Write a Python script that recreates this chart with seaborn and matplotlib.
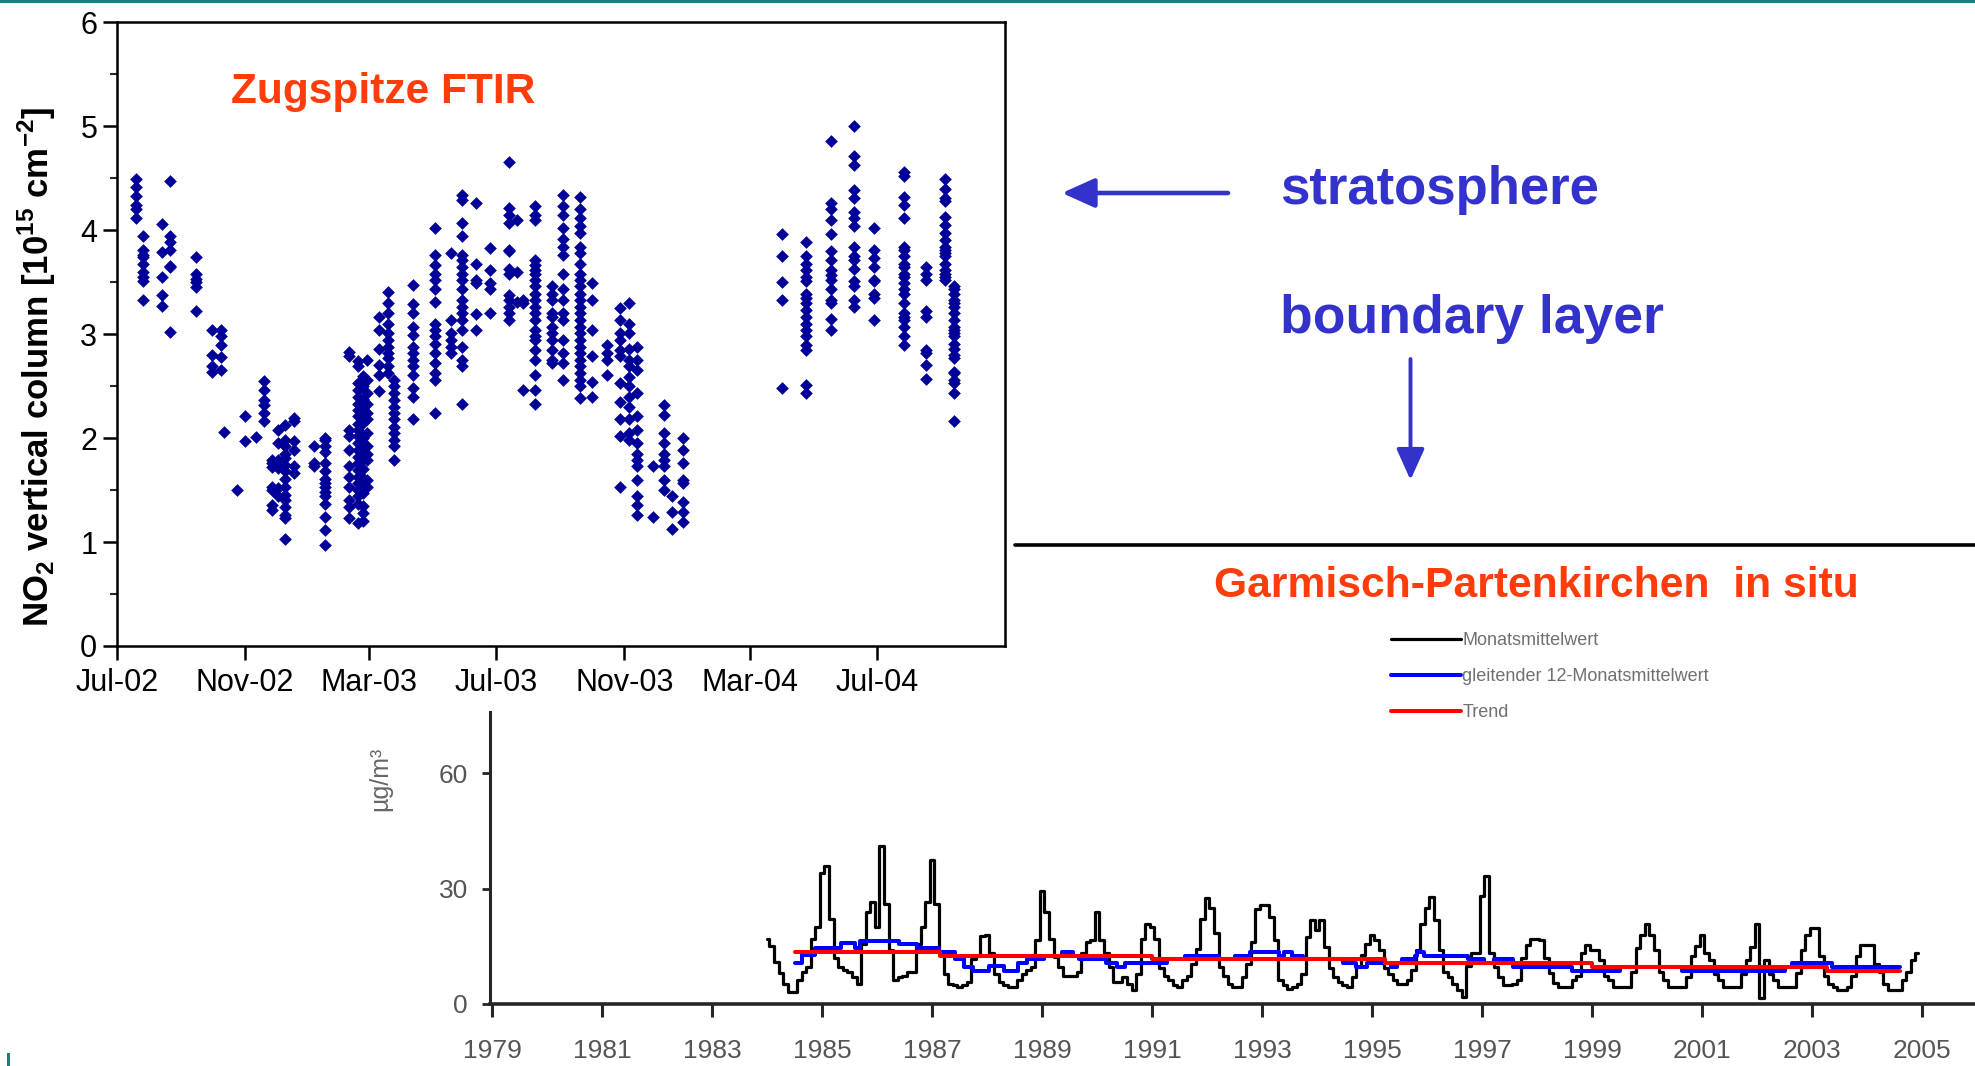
import numpy as np
import pandas as pd
import matplotlib
matplotlib.use("Agg")
import matplotlib.pyplot as plt
import matplotlib.dates as mdates
from matplotlib.patches import FancyArrowPatch, Rectangle
from matplotlib.lines import Line2D
from matplotlib.ticker import MultipleLocator
import seaborn as sns

# ---------------- Zugspitze FTIR: measurement days and NO2 columns [1e15 cm-2]
ftir_dates = [
    "2002-07-20", "2002-07-26", "2002-08-14", "2002-08-21", "2002-09-15",
    "2002-10-01", "2002-10-09", "2002-10-12", "2002-10-25", "2002-11-01",
    "2002-11-12", "2002-11-20", "2002-11-27", "2002-12-03", "2002-12-10",
    "2002-12-18", "2003-01-07", "2003-01-17", "2003-02-09", "2003-02-18",
    "2003-02-23", "2003-02-27", "2003-03-10", "2003-03-19", "2003-03-25",
    "2003-04-12", "2003-05-03", "2003-05-18", "2003-05-29", "2003-06-11",
    "2003-06-25", "2003-07-13", "2003-07-21", "2003-07-27", "2003-08-07",
    "2003-08-23", "2003-09-03", "2003-09-19", "2003-10-01", "2003-10-15",
    "2003-10-28", "2003-11-05", "2003-11-13", "2003-11-29", "2003-12-09",
    "2003-12-17", "2003-12-27", "2004-04-01", "2004-04-24", "2004-05-18",
    "2004-06-09", "2004-06-28", "2004-07-27", "2004-08-17", "2004-09-04",
    "2004-09-13",
]
ftir_values = [
    [4.49, 4.42, 4.33, 4.24, 4.20, 4.12],
    [3.94, 3.81, 3.76, 3.74, 3.68, 3.60, 3.55, 3.51, 3.33],
    [4.06, 3.79, 3.55, 3.38, 3.27],
    [4.47, 3.94, 3.89, 3.81, 3.66, 3.65, 3.02],
    [3.74, 3.58, 3.53, 3.50, 3.45, 3.22],
    [3.04, 2.80, 2.69, 2.64],
    [3.04, 2.98, 2.90, 2.78, 2.66],
    [2.06],
    [1.50],
    [2.21, 1.97],
    [2.01],
    [2.55, 2.46, 2.37, 2.32, 2.24, 2.16],
    [1.79, 1.76, 1.72, 1.53, 1.50, 1.36, 1.31],
    [2.08, 1.95, 1.79, 1.71, 1.52, 1.44],
    [2.13, 1.98, 1.92, 1.85, 1.81, 1.74, 1.68, 1.61, 1.53, 1.45, 1.40, 1.34, 1.26, 1.23, 1.03],
    [2.19, 2.16, 1.97, 1.89, 1.73, 1.66],
    [1.92, 1.76, 1.73],
    [2.00, 1.98, 1.92, 1.87, 1.76, 1.68, 1.61, 1.57, 1.53, 1.48, 1.44, 1.37, 1.24, 1.12, 0.97],
    [2.83, 2.79, 2.08, 2.02, 1.89, 1.73, 1.63, 1.53, 1.40, 1.34, 1.23],
    [2.74, 2.69, 2.53, 2.46, 2.40, 2.33, 2.27, 2.21, 2.14, 2.08, 2.02, 1.95, 1.89, 1.82,
     1.76, 1.69, 1.63, 1.57, 1.50, 1.44, 1.37, 1.18],
    [2.60, 2.50, 2.38, 2.28, 2.15, 2.00, 1.90, 1.80, 1.70, 1.62, 1.55, 1.47, 1.35, 1.28, 1.20],
    [2.75, 2.56, 2.43, 2.33, 2.24, 2.18, 2.05, 1.92, 1.85, 1.79, 1.60, 1.53],
    [3.17, 3.04, 2.86, 2.70, 2.61, 2.45],
    [3.41, 3.30, 3.20, 3.10, 3.01, 2.94, 2.88, 2.82, 2.77, 2.69, 2.63],
    [2.56, 2.50, 2.43, 2.37, 2.30, 2.24, 2.18, 2.11, 2.05, 1.98, 1.92, 1.79],
    [3.47, 3.29, 3.20, 3.07, 2.99, 2.88, 2.82, 2.75, 2.69, 2.61, 2.48, 2.40, 2.18],
    [4.02, 3.76, 3.67, 3.58, 3.52, 3.43, 3.31, 3.10, 3.04, 2.98, 2.91, 2.82, 2.72, 2.63, 2.56, 2.24],
    [3.78, 3.14, 3.01, 2.94, 2.88, 2.82],
    [4.34, 4.29, 4.07, 3.94, 3.76, 3.71, 3.65, 3.58, 3.52, 3.43, 3.33, 3.26, 3.20, 3.14,
     3.04, 2.88, 2.75, 2.69, 2.33],
    [4.26, 3.68, 3.52, 3.49, 3.19, 3.04],
    [3.83, 3.62, 3.49, 3.43, 3.20],
    [4.66, 4.21, 4.15, 4.07, 3.81, 3.80, 3.63, 3.58, 3.38, 3.33, 3.26, 3.20, 3.14],
    [4.10, 3.60, 3.31],
    [3.33, 3.30, 2.46],
    [4.23, 4.15, 4.10, 3.71, 3.67, 3.62, 3.58, 3.52, 3.46, 3.39, 3.33, 3.26, 3.20, 3.14,
     3.04, 2.98, 2.94, 2.85, 2.75, 2.61, 2.46, 2.33],
    [3.46, 3.39, 3.33, 3.20, 3.17, 3.07, 3.01, 2.94, 2.85, 2.75, 2.72],
    [4.34, 4.23, 4.15, 4.02, 3.92, 3.84, 3.76, 3.58, 3.43, 3.33, 3.20, 3.14, 2.94, 2.82, 2.72, 2.56],
    [4.32, 4.20, 4.12, 4.04, 3.97, 3.84, 3.78, 3.68, 3.58, 3.52, 3.46, 3.39, 3.33, 3.26,
     3.20, 3.14, 3.07, 3.01, 2.94, 2.88, 2.82, 2.75, 2.69, 2.63, 2.56, 2.50, 2.39],
    [3.49, 3.33, 3.04, 2.79, 2.54, 2.40],
    [2.90, 2.82, 2.75, 2.61],
    [3.25, 3.14, 3.01, 2.94, 2.85, 2.79, 2.53, 2.35, 2.18, 2.02, 1.53],
    [3.30, 3.10, 3.01, 2.86, 2.75, 2.69, 2.59, 2.50, 2.40, 2.30, 2.18, 2.05, 1.98],
    [2.88, 2.75, 2.66, 2.43, 2.21, 2.08, 1.95, 1.85, 1.79, 1.73, 1.60, 1.44, 1.36, 1.26],
    [1.73, 1.24],
    [2.32, 2.22, 2.05, 1.95, 1.85, 1.79, 1.73, 1.60, 1.50],
    [1.44, 1.29, 1.13],
    [2.00, 1.89, 1.76, 1.60, 1.57, 1.39, 1.29, 1.19],
    [3.96, 3.75, 3.50, 3.33, 2.48],
    [3.89, 3.75, 3.68, 3.62, 3.55, 3.51, 3.39, 3.35, 3.30, 3.23, 3.17, 3.10, 3.04, 2.98,
     2.90, 2.85, 2.51, 2.43],
    [4.86, 4.26, 4.20, 4.10, 3.96, 3.80, 3.71, 3.62, 3.57, 3.52, 3.43, 3.33, 3.30, 3.15, 3.04],
    [5.00, 4.71, 4.63, 4.39, 4.31, 4.18, 4.12, 4.04, 3.84, 3.75, 3.71, 3.63, 3.51, 3.46, 3.33, 3.26],
    [4.02, 3.81, 3.73, 3.65, 3.52, 3.51, 3.39, 3.35, 3.14],
    [4.56, 4.52, 4.32, 4.24, 4.12, 3.84, 3.81, 3.75, 3.68, 3.65, 3.58, 3.55, 3.49, 3.43,
     3.39, 3.30, 3.20, 3.17, 3.14, 3.07, 2.98, 2.90],
    [3.65, 3.58, 3.52, 3.22, 3.17, 2.85, 2.82, 2.70, 2.57],
    [4.49, 4.40, 4.31, 4.28, 4.13, 4.05, 3.97, 3.91, 3.84, 3.81, 3.78, 3.75, 3.68, 3.62,
     3.58, 3.55, 3.52],
    [3.46, 3.43, 3.39, 3.33, 3.30, 3.26, 3.20, 3.14, 3.07, 3.04, 3.01, 2.98, 2.91, 2.86,
     2.80, 2.77, 2.64, 2.63, 2.56, 2.53, 2.43, 2.16],
]
top_xticks = ["2002-07-01", "2002-11-01", "2003-03-01", "2003-07-01",
              "2003-11-01", "2004-03-01", "2004-07-01"]

# ---------------- Garmisch-Partenkirchen in situ NO2 [ug/m3]
gap_first_year = 1984
gap_monthly = [
    [17, 15, 11, 8, 5.3, 3, 3.2, 6.2, 8.4, 9.7, 17, 20],            # 1984
    [34, 36, 22, 12, 9.7, 8.8, 8.4, 7, 5.3, 15.7, 24, 26.5],         # 1985
    [20, 41, 26, 14, 6.2, 7, 7.4, 8.4, 8.4, 15.7, 20, 26.5],         # 1986
    [37.4, 26, 13.2, 7.9, 5.3, 4.9, 4.3, 4.9, 5.7, 11.6, 12.5, 17.6],  # 1987
    [18, 13.2, 7.9, 5.7, 4.9, 4.3, 4.3, 6.2, 7.9, 8.8, 9.7, 16.6],   # 1988
    [29.5, 24, 17, 12.3, 9.7, 7.4, 7.4, 7.4, 8.4, 13.2, 16.2, 16.6],  # 1989
    [24, 16.6, 13.2, 9.7, 5.7, 5.7, 7, 5.3, 3.6, 7.9, 17, 20.9],     # 1990
    [20, 17, 9.3, 7.4, 6.2, 5, 4.3, 6.2, 7.4, 10.4, 14.3, 22],       # 1991
    [27.7, 25, 18.5, 9.7, 7.4, 5.3, 4.3, 4.3, 7, 10.4, 16.2, 24.8],  # 1992
    [25.7, 25.7, 22.7, 16.6, 6.2, 4.9, 4, 4.3, 5.3, 7.9, 17.5, 21.8],  # 1993
    [19.2, 21.8, 14.8, 9.3, 7, 5.7, 4.9, 4.3, 7, 9.7, 12.7, 15.7],   # 1994
    [17.9, 16.6, 14, 9.3, 7.9, 6.2, 5.3, 5.3, 6.2, 8.8, 14, 20.9],   # 1995
    [25.1, 27.8, 21.8, 14, 8.4, 7, 5.3, 3.6, 1.8, 10, 13.2, 13.2],   # 1996
    [28, 33.4, 13.2, 9.7, 7, 4.9, 4.9, 5.3, 6.2, 12, 15.3, 17],      # 1997
    [17, 16.6, 12, 8, 5.5, 4.3, 4.3, 4.3, 6.2, 7.4, 13.2, 15.3],     # 1998
    [14, 14, 11.4, 7.4, 6.2, 4.3, 4.3, 4.3, 4.3, 8.4, 14.5, 17.9],   # 1999
    [20.9, 17.9, 14, 8.4, 6.2, 4.3, 4.3, 4.3, 4.3, 7, 12.6, 15],     # 2000
    [17.9, 13.2, 11.4, 7.9, 6.2, 4.3, 4.3, 4.3, 4.3, 7.9, 11.4, 14.8],  # 2001
    [20.9, 1.6, 11.4, 7.9, 6.2, 4.3, 4.3, 4.3, 4.3, 8, 14, 17.9],    # 2002
    [19.8, 19.8, 12.6, 7.4, 5.3, 4.3, 3.6, 3.6, 4.3, 7.4, 12.6, 15.3],  # 2003
    [15.3, 15.3, 10.4, 8.4, 5.3, 3.6, 3.6, 3.6, 6.2, 8.4, 11.4, 13.2],  # 2004
]
# running 12-month mean, as read: month index (since Jan 1984) where each level starts
running_start = [6, 7.6, 10.5, 16, 19.2, 20.3, 28.7, 32.7, 37.4, 41, 43, 45, 48.3, 51.6,
                 54.8, 56.7, 60.3, 64.3, 66.8, 68, 74, 76.3, 78, 87.2, 91.2, 98.5, 102.1,
                 105.4, 111.6, 112.7, 114.5, 117, 125.7, 128.5, 130.8, 136, 137.4, 138.5,
                 141.4, 141.7, 143.2, 153, 156.3, 158.5, 162.8, 175.6, 186.1, 199.6,
                 222.1, 223.6, 232.3]
running_level = [10.6, 12.8, 14.6, 15.8, 14.6, 16.4, 15.7, 14.6, 13.4, 11.7, 9.7, 8.7, 9.8,
                 8.7, 10.6, 11.7, 12.6, 13.4, 12.6, 11.7, 10.6, 9.7, 10.6, 11.7, 12.6, 11.7,
                 12.6, 13.4, 12.6, 13.4, 12.6, 11.7, 10.6, 9.7, 10.6, 9.7, 10.6, 11.7, 12.6,
                 13.4, 12.6, 11.7, 10.6, 11.7, 9.7, 8.7, 9.7, 8.7, 9.7, 10.6, 9.7]
trend_start = [6, 37.7, 84, 134.8, 179.9, 231.2]
trend_level = [13.4, 12.6, 11.7, 10.6, 9.7, 8.7]
steps_end = 247.2
bottom_xticks = list(range(1979, 2006, 2))
bottom_yticks = [0, 30, 60]
legend_labels = ["Monatsmittelwert", "gleitender 12-Monatsmittelwert", "Trend"]

# ---------------- style
sns.set_theme(style="ticks")
plt.rcParams["font.family"] = ["Liberation Sans", "DejaVu Sans"]
plt.rcParams["mathtext.fontset"] = "custom"
plt.rcParams["mathtext.rm"] = "Liberation Sans"
plt.rcParams["mathtext.bf"] = "Liberation Sans:bold"
plt.rcParams["axes.unicode_minus"] = True

RED = "#ff3c0a"
BLUE_TXT = "#3333cc"
DOT = "#000099"

fig = plt.figure(figsize=(19.75, 10.66), dpi=100)
fig.patch.set_facecolor("white")

# ---------------- top panel
ax1 = fig.add_axes([0.0591, 0.394, 0.4498, 0.585])
df_ftir = pd.DataFrame({
    "date": pd.to_datetime(np.repeat(ftir_dates, [len(v) for v in ftir_values])),
    "value": np.concatenate([np.asarray(v, float) for v in ftir_values]),
})
sns.scatterplot(data=df_ftir, x="date", y="value", marker="D", s=42, color=DOT,
                linewidth=0, ax=ax1, legend=False)
ax1.set_xlim(pd.Timestamp("2002-07-01"), pd.Timestamp("2004-11-01"))
ax1.set_ylim(0, 6)
ax1.set_xticks(pd.to_datetime(top_xticks))
ax1.xaxis.set_major_formatter(mdates.DateFormatter("%b-%y"))
ax1.xaxis.set_minor_locator(plt.NullLocator())
ax1.yaxis.set_major_locator(MultipleLocator(1))
ax1.yaxis.set_minor_locator(MultipleLocator(0.5))
for sp in ax1.spines.values():
    sp.set_visible(True)
    sp.set_linewidth(1.8)
    sp.set_color("black")
ax1.tick_params(axis="both", which="major", direction="out", length=10, width=1.8,
                labelsize=22, colors="black", pad=4, bottom=True, left=True)
ax1.tick_params(axis="x", which="major", pad=6)
ax1.tick_params(axis="y", which="minor", direction="out", length=5, width=1.5, left=True)
ax1.set_xlabel("")
ax1.set_ylabel(r"NO$_\mathbf{2}$ vertical column [10$^\mathbf{15}$ cm$^\mathbf{-2}$]",
               fontsize=25, fontweight="bold", color="black")
ax1.yaxis.set_label_coords(-0.066, 0.447)

fig.text(0.1172, 0.9034, "Zugspitze FTIR", color=RED, fontsize=30.5, fontweight="bold",
         ha="left", va="baseline")

# ---------------- bottom panel
ax2 = fig.add_axes([0.2481, 0.0582, 0.7519, 0.2739])
ax2.set_facecolor("none")
gap_y = np.concatenate([np.asarray(v, float) for v in gap_monthly])
gap_x = gap_first_year + np.arange(len(gap_y)) / 12.0
run_x = gap_first_year + np.asarray(running_start + [steps_end]) / 12.0
run_y = running_level + [running_level[-1]]
tr_x = gap_first_year + np.asarray(trend_start + [steps_end]) / 12.0
tr_y = trend_level + [trend_level[-1]]

sns.lineplot(x=gap_x, y=gap_y, drawstyle="steps-mid", color="black", lw=2.3, ax=ax2,
             label=legend_labels[0])
sns.lineplot(x=run_x, y=run_y, drawstyle="steps-post", color="#0000ff", lw=2.9, ax=ax2,
             label=legend_labels[1])
sns.lineplot(x=tr_x, y=tr_y, drawstyle="steps-post", color="#ff0000", lw=2.9, ax=ax2,
             label=legend_labels[2])

ax2.set_xlim(1978.96, 2005.96)
ax2.set_ylim(0, 76)
ax2.set_xticks(bottom_xticks)
ax2.set_yticks(bottom_yticks)
ax2.spines["top"].set_visible(False)
ax2.spines["right"].set_visible(False)
ax2.spines["left"].set_linewidth(2.2)
ax2.spines["bottom"].set_linewidth(2.6)
ax2.tick_params(axis="x", direction="out", length=9, width=2.2, labelsize=19,
                labelcolor="#555555", pad=16, bottom=True)
ax2.tick_params(axis="y", direction="out", length=6, width=2.0, labelsize=19,
                labelcolor="#555555", pad=10, left=True)
ax2.set_ylabel("µg/m³", fontsize=18, color="#666666")
ax2.yaxis.set_label_coords(-0.066, 0.77)

ax2.legend(loc="upper left", bbox_to_anchor=(0.7043, 0.407), bbox_transform=fig.transFigure,
           frameon=False, handlelength=3.9, handletextpad=0.05, labelspacing=1.05,
           borderpad=0, borderaxespad=0, prop={"size": 13}, labelcolor="#707070")

# ---------------- annotations
fig.text(0.6481, 0.8082, "stratosphere", color=BLUE_TXT, fontsize=38, fontweight="bold",
         ha="left", va="baseline")
fig.text(0.6481, 0.688, "boundary layer", color=BLUE_TXT, fontsize=38.5, fontweight="bold",
         ha="left", va="baseline")
fig.text(0.6149, 0.4397, "Garmisch-Partenkirchen  in situ", color=RED, fontsize=30.7,
         fontweight="bold", ha="left", va="baseline")

arr1 = FancyArrowPatch((1228 / 1975, 1 - 193 / 1066), (1062 / 1975, 1 - 193 / 1066),
                       transform=fig.transFigure, arrowstyle="-|>,head_length=1.0,head_width=0.45",
                       mutation_scale=20, lw=3.3, color=BLUE_TXT, shrinkA=0, shrinkB=0)
fig.add_artist(arr1)
arr2 = FancyArrowPatch((1410.5 / 1975, 1 - 359 / 1066), (1410.5 / 1975, 1 - 480 / 1066),
                       transform=fig.transFigure, arrowstyle="-|>,head_length=1.0,head_width=0.45",
                       mutation_scale=19, lw=2.8, color=BLUE_TXT, shrinkA=0, shrinkB=0)
fig.add_artist(arr2)

fig.add_artist(Line2D([1015 / 1975, 1.0], [1 - 544.6 / 1066] * 2, transform=fig.transFigure,
                      color="black", lw=2.6))
fig.add_artist(Rectangle((0, 1 - 3 / 1066), 1, 3 / 1066, transform=fig.transFigure,
                         color="#16807e", lw=0))
fig.add_artist(Rectangle((7 / 1975, 0), 2.5 / 1975, 13 / 1066, transform=fig.transFigure,
                         color="#16807e", lw=0))

fig.savefig("out.png", dpi=100, facecolor="white")
